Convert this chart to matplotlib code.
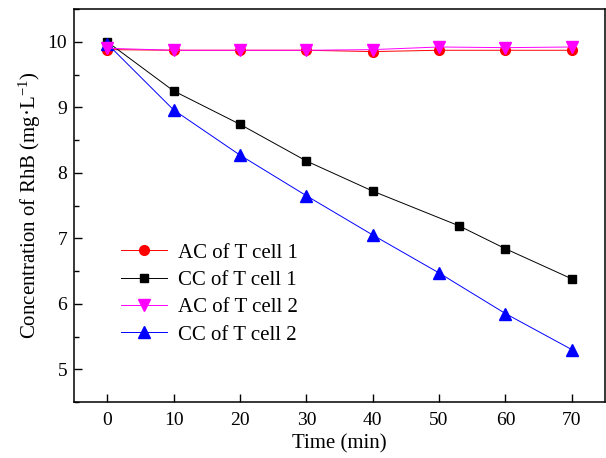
import matplotlib
matplotlib.use("Agg")
import matplotlib.pyplot as plt
from matplotlib.ticker import MultipleLocator

plt.rcParams['font.family'] = ['Liberation Serif', 'DejaVu Serif']
plt.rcParams['mathtext.fontset'] = 'custom'
plt.rcParams['mathtext.rm'] = 'Liberation Serif'
plt.rcParams['mathtext.it'] = 'Liberation Serif:italic'

time_ac = [0, 10, 20, 30, 40, 50, 60, 70]
ac_cell1 = [9.88, 9.87, 9.87, 9.87, 9.85, 9.87, 9.87, 9.87]
ac_cell2 = [9.90, 9.87, 9.87, 9.87, 9.88, 9.92, 9.91, 9.92]

time_cc1 = [0, 10, 20, 30, 40, 53, 60, 70]
cc_cell1 = [10.0, 9.25, 8.74, 8.18, 7.72, 7.19, 6.84, 6.38]

time_cc2 = [0, 10, 20, 30, 40, 50, 60, 70]
cc_cell2 = [9.97, 8.96, 8.27, 7.65, 7.05, 6.47, 5.85, 5.30]

labels = ["AC of T cell 1", "CC of T cell 1", "AC of T cell 2", "CC of T cell 2"]

fig = plt.figure(figsize=(6.06, 4.58), dpi=100)
ax = fig.add_axes([74/606, 56/458, 531/606, 393/458])

lw = 0.7
ax.plot(time_ac, ac_cell1, color='#ff0000', marker='o', markersize=7, lw=lw, label=labels[0], zorder=3)
ax.plot(time_cc1, cc_cell1, color='#000000', marker='s', markersize=6.3, lw=lw, label=labels[1], zorder=3)
ax.plot(time_ac, ac_cell2, color='#ff00ff', marker='v', markersize=8, lw=lw, label=labels[2], zorder=4)
ax.plot(time_cc2, cc_cell2, color='#0000ff', marker='^', markersize=8, lw=lw, label=labels[3], zorder=3)

ax.set_xlim(-5, 75)
ax.set_ylim(4.5, 10.5)
ax.xaxis.set_major_locator(MultipleLocator(10))
ax.yaxis.set_major_locator(MultipleLocator(1))
ax.yaxis.set_minor_locator(MultipleLocator(0.5))
ax.tick_params(axis='both', which='major', direction='in', length=6, width=1, labelsize=14,
               top=False, right=False)
ax.tick_params(axis='x', which='major', pad=7)
ax.tick_params(axis='y', which='major', pad=5)
ax.tick_params(axis='y', which='minor', direction='in', length=3.5, width=1, right=False)
for s in ax.spines.values():
    s.set_linewidth(1.1)

ax.set_xlabel("Time (min)", fontsize=15, labelpad=4)
ax.set_ylabel("Concentration of RhB (mg\u00b7L$^{-1}$)", fontsize=15, labelpad=3)

leg = ax.legend(loc='center left', bbox_to_anchor=(0.088, 0.275), frameon=False,
                fontsize=15, handlelength=2.2, handletextpad=0.56, labelspacing=0.37,
                borderaxespad=0, borderpad=0)

fig.savefig("out.png", dpi=100)
